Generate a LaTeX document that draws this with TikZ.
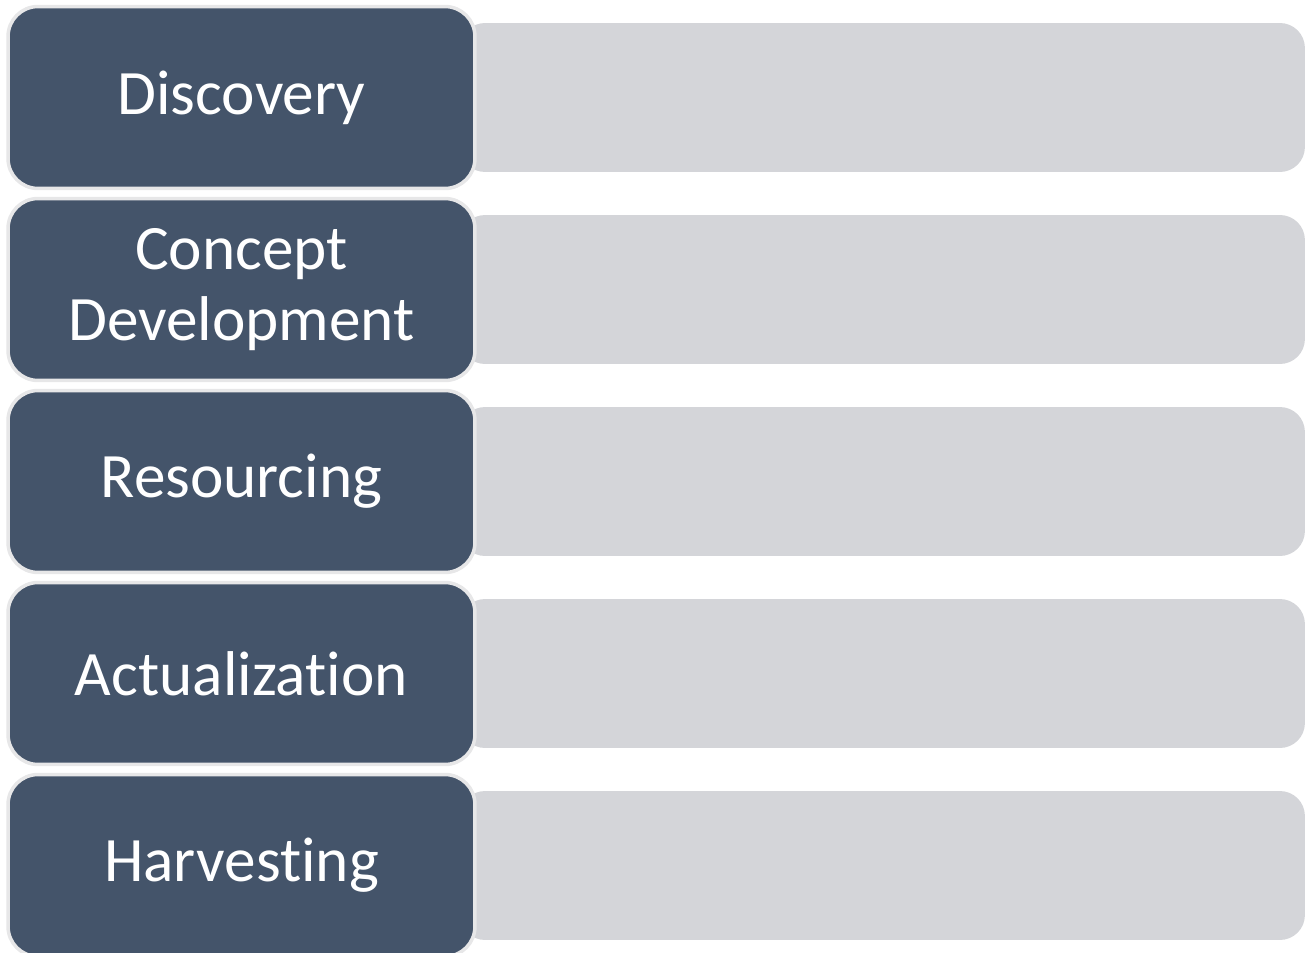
\documentclass[tikz,border=0pt]{standalone}
\usepackage{fontspec}
\setmainfont{Carlito}[Ligatures=NoCommon]
\usepackage{tikz}
\usetikzlibrary{calc}
\definecolor{stagefill}{HTML}{44546A}
\definecolor{stageedge}{HTML}{E7E7E8}
\definecolor{barfill}{HTML}{D4D5D9}
\tikzstyle{stage}=[rectangle, fill=stagefill, draw=stageedge,% dark box, pale rim
line width=2pt, rounded corners=0.6cm, minimum width=9.34cm, minimum height=3.64cm,
text=white, font=\fontsize{36}{40}\selectfont, align=center, inner sep=0pt]
\tikzstyle{bar}=[rectangle, fill=barfill, rounded corners=0.5cm,
minimum width=16.9cm, minimum height=2.98cm, inner sep=0pt]

\begin{document}
\begin{tikzpicture}[x=0.02cm,y=-0.02cm]
\useasboundingbox (0,0) rectangle (1309,953);
\node[bar] (b1) at (882.5,97.5) {};
\node[bar] (b2) at (882.5,289.5) {};
\node[bar] (b3) at (882.5,481.5) {};
\node[bar] (b4) at (882.5,673.5) {};
\node[bar] (b5) at (882.5,865.5) {};

\node[stage] (discovery) at (241.5,97.5) {Discovery};
\node[stage] (concept) at (241.5,289.5) {Concept\\Development};
\node[stage] (resourcing) at (241.5,481.5) {Resourcing};
\node[stage] (actualization) at (241.5,673.5) {Actualization};
\node[stage] (harvesting) at (241.5,865.5) {Harvesting};
\end{tikzpicture}
\end{document}
